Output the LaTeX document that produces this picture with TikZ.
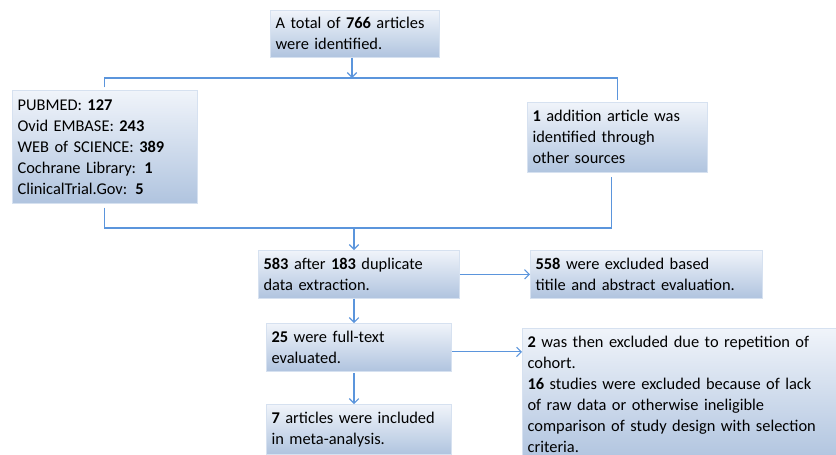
\documentclass[tikz,border=0pt]{standalone}
\usepackage{fontspec}
\setmainfont{Carlito}
\usepackage{tikz}
\usetikzlibrary{arrows.meta,positioning,calc}

\definecolor{linkblue}{HTML}{5B95DC}
\definecolor{boxtop}{HTML}{F0F4FA}
\definecolor{boxbot}{HTML}{B0C4DF}
\definecolor{boxedge}{HTML}{D6E1F0}

\tikzset{
  flowbox/.style={anchor=north west,rectangle,align=left,inner xsep=4pt,inner ysep=1pt,
    top color=boxtop,bottom color=boxbot,draw=boxedge,line width=.4pt},
  link/.style={draw=linkblue,line width=.8pt},
  flowarrow/.style={link,-{Straight Barb[length=3.5pt,width=7pt]}}
}

\begin{document}
\begin{tikzpicture}[x=.75pt,y=-.75pt,font=\fontsize{12.3pt}{15.75pt}\selectfont]
\useasboundingbox (0,0) rectangle (836,454);
% boxes
\node[flowbox,text width=119pt,minimum height=35.25pt] (total) at (270,10) {A total of \textbf{766} articles\\were identified.};
\node[flowbox,text width=131pt,minimum height=84.75pt] (dbs) at (12,90) {PUBMED: \textbf{127}\\Ovid EMBASE: \textbf{243}\\WEB of SCIENCE: \textbf{389}\\Cochrane Library: \textbf{1}\\ClinicalTrial.Gov: \textbf{5}};
\node[flowbox,text width=127pt,minimum height=52.5pt] (other) at (527,102) {\textbf{1} addition article was\\identified through\\other sources};
\node[flowbox,text width=143pt,minimum height=36pt] (dedup) at (258,250) {\textbf{583} after \textbf{183} duplicate\\data extraction.};
\node[flowbox,text width=166pt,minimum height=36pt] (excl1) at (530,250) {\textbf{558} were excluded based\\titile and abstract evaluation.};
\node[flowbox,text width=131pt,minimum height=36pt] (full) at (266,323) {\textbf{25} were full-text\\evaluated.};
\node[flowbox,text width=131pt,minimum height=37.5pt] (incl) at (266,404) {\textbf{7} articles were included\\in meta-analysis.};
\node[flowbox,text width=250pt,inner ysep=6pt] (excl2) at (522,328) {\textbf{2} was then excluded due to repetition of\\cohort.\\\textbf{16} studies were excluded because of lack\\of raw data or otherwise ineligible\\comparison of study design with selection\\criteria.};
% split and merge
\coordinate (split) at (352,78);
\coordinate (merge) at (354,228);
\draw[flowarrow] (total.south -| split) -- (split);
\draw[link] ([yshift=2pt]dbs.north) |- (split) -| ([yshift=1.5pt]other.north);
\draw[link] ([yshift=-3pt]dbs.south) |- (merge) -| ([yshift=-3.5pt,xshift=-4pt]other.south);
\draw[flowarrow] (merge) -- (dedup.north -| merge);
\draw[flowarrow] (dedup.south -| merge) -- (full.north -| merge);
\draw[flowarrow] ([yshift=-1pt]full.south -| merge) -- (incl.north -| merge);
\draw[flowarrow] (dedup.east) -- (excl1.west |- dedup.east);
\draw[flowarrow] ([yshift=-3.5pt]full.east) -- ([yshift=-3.5pt]full.east -| excl2.west);
\end{tikzpicture}
\end{document}
